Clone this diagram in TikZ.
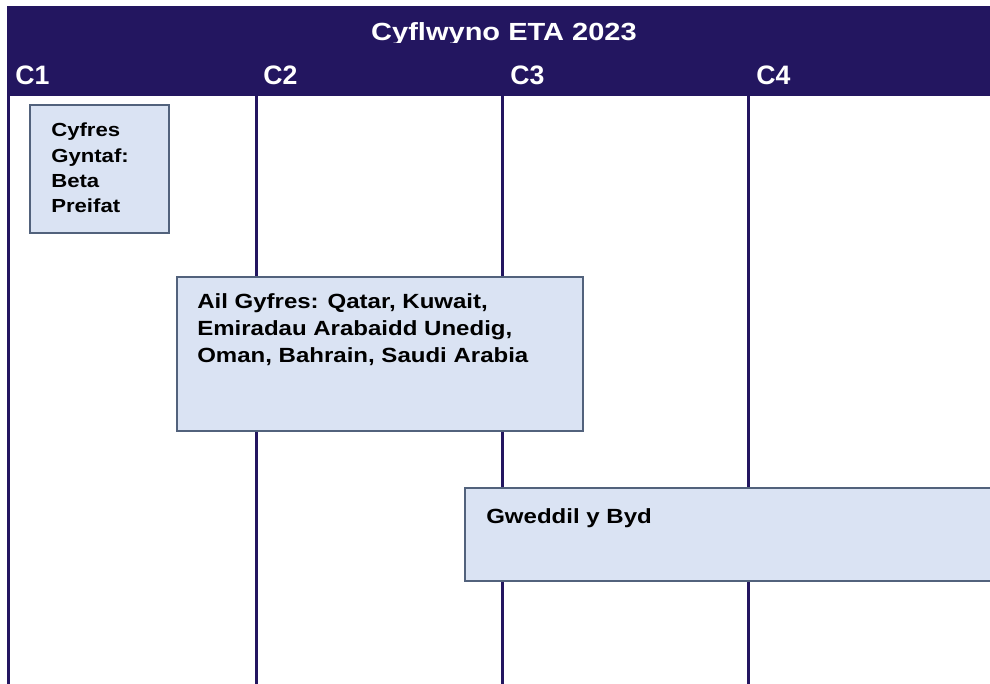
\documentclass[tikz,border=0pt]{standalone}
\usepackage{fontspec}
\setmainfont{Liberation Sans}
\newfontfamily\widefont[FakeStretch=1.17]{Liberation Sans}
\definecolor{navy}{RGB}{35,22,96}
\definecolor{boxfill}{RGB}{218,227,243}
\definecolor{boxedge}{RGB}{82,98,124}

\begin{document}
\begin{tikzpicture}[x=0.75pt,y=-0.75pt,
    lane/.style={navy, line width=2.25pt},
    wave/.style={fill=boxfill, draw=boxedge, line width=1.2pt},
    wavetext/.style={anchor=base west, align=left, inner sep=0pt,
      font=\widefont\bfseries\fontsize{15.4}{20.6}\selectfont},
    quarter/.style={anchor=base west, inner sep=0pt, text=white,
      font=\bfseries\fontsize{20}{24}\selectfont}]
  \clip (0,0) rectangle (990,684);
  % lanes
  \foreach \X in {8.5,256,502,748}{
    \draw[lane] (\X,90) -- (\X,684);
  }
  % header
  \fill[navy] (7,6) rectangle (990,96);
  \begin{scope}
    \clip (7,6) rectangle (990,42.5);
    \node[anchor=base, inner sep=0pt, text=white,
      font=\widefont\bfseries\fontsize{18.6}{22}\selectfont] (title) at (504,40.5) {Cyflwyno ETA 2023};
  \end{scope}
  \foreach \Name/\X in {C1/15, C2/263, C3/510, C4/756}{
    \node[quarter] (\Name) at (\X,85) {\Name};
  }
  % waves (nodes sit on the baseline of their last line)
  \filldraw[wave] (30,105) rectangle (169,233);
  \node[wavetext, font=\widefont\bfseries\fontsize{14.2}{19}\selectfont] (first) at (51,213)
    {Cyfres\\Gyntaf:\\Beta\\Preifat};
  \filldraw[wave] (177,277) rectangle (583,431);
  \node[wavetext] (second) at (197,363)
    {Ail Gyfres: Qatar, Kuwait,\\Emiradau Arabaidd Unedig,\\Oman, Bahrain, Saudi Arabia};
  \filldraw[wave] (465,488) rectangle (1000,581);
  \node[wavetext] (rest) at (486,523) {Gweddil y Byd};
\end{tikzpicture}
\end{document}
